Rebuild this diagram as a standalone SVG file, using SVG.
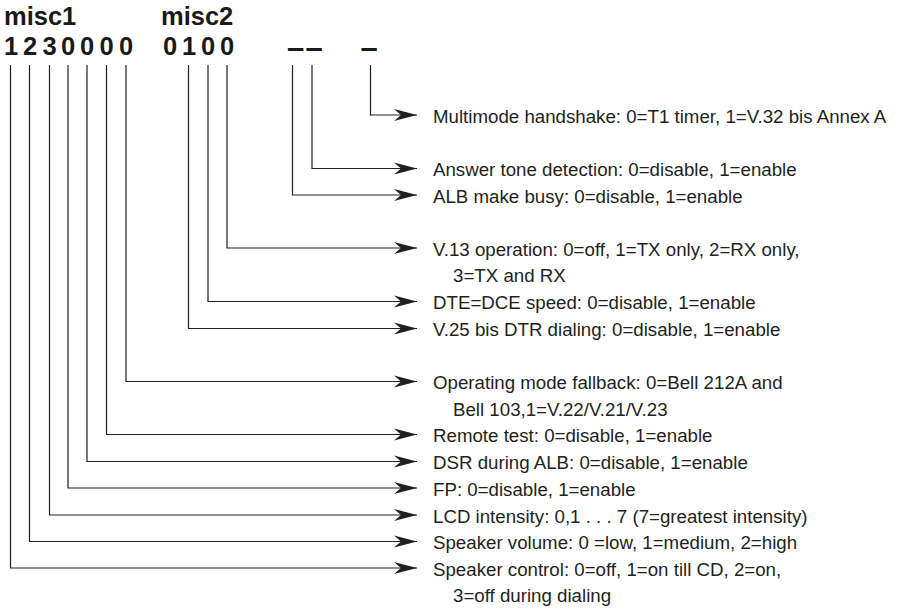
<svg xmlns="http://www.w3.org/2000/svg" width="900" height="608" viewBox="0 0 900 608">
<defs>
<style>
.hdr{font-family:"Liberation Sans",Arial,Helvetica,sans-serif;font-weight:bold;font-size:25.5px;fill:#1a1a1a}
.dg{font-family:"Liberation Sans",Arial,Helvetica,sans-serif;font-weight:bold;font-size:25.5px;fill:#1a1a1a;text-anchor:middle}
.ds{font-family:"Liberation Sans",Arial,Helvetica,sans-serif;font-weight:bold;font-size:31px;fill:#1a1a1a;text-anchor:middle}
.lbl{font-family:"Liberation Sans",Arial,Helvetica,sans-serif;font-size:18.7px;fill:#231f20}
.ln{fill:none;stroke:#231f20;stroke-width:1.2}
</style>
<marker id="ah" markerUnits="userSpaceOnUse" markerWidth="26" markerHeight="14" viewBox="-24 -7 26 14" refX="0" refY="0" orient="auto">
<path d="M0,0 L-23,-6 L-16,0 L-23,6 Z" fill="#231f20"/>
</marker>
</defs>
<rect width="900" height="608" fill="#ffffff"/>
<g id="header">
<text class="hdr" x="4" y="25">misc1</text>
<text class="hdr" x="161" y="25">misc2</text>
<text class="dg" x="11" y="55">1</text>
<text class="dg" x="30" y="55">2</text>
<text class="dg" x="49.5" y="55">3</text>
<text class="dg" x="68" y="55">0</text>
<text class="dg" x="87" y="55">0</text>
<text class="dg" x="106.5" y="55">0</text>
<text class="dg" x="126" y="55">0</text>
<text class="dg" x="170" y="55">0</text>
<text class="dg" x="189" y="55">1</text>
<text class="dg" x="208" y="55">0</text>
<text class="dg" x="227" y="55">0</text>
<text class="ds" x="295.5" y="58">–</text>
<text class="ds" x="314" y="58">–</text>
<text class="ds" x="369" y="58">–</text>
</g>
<g id="connectors">
<path class="ln" marker-end="url(#ah)" d="M370.5,65 V115 H417"/>
<path class="ln" marker-end="url(#ah)" d="M312,65 V168.5 H417"/>
<path class="ln" marker-end="url(#ah)" d="M292.5,65 V195 H417"/>
<path class="ln" marker-end="url(#ah)" d="M227,65 V248 H417"/>
<path class="ln" marker-end="url(#ah)" d="M208,65 V301.5 H417"/>
<path class="ln" marker-end="url(#ah)" d="M188.5,65 V328.5 H417"/>
<path class="ln" marker-end="url(#ah)" d="M126,65 V381.5 H417"/>
<path class="ln" marker-end="url(#ah)" d="M106.5,65 V434.5 H417"/>
<path class="ln" marker-end="url(#ah)" d="M87,65 V461.5 H417"/>
<path class="ln" marker-end="url(#ah)" d="M68,65 V488 H417"/>
<path class="ln" marker-end="url(#ah)" d="M49.5,65 V515 H417"/>
<path class="ln" marker-end="url(#ah)" d="M29.5,65 V541.5 H417"/>
<path class="ln" marker-end="url(#ah)" d="M10.5,65 V568 H417"/>
</g>
<g id="multimode"><text class="lbl" x="433" y="122.5">Multimode handshake: 0=T1 timer, 1=V.32 bis Annex A</text></g>
<g id="answer-tone"><text class="lbl" x="433" y="176">Answer tone detection: 0=disable, 1=enable</text></g>
<g id="alb-busy"><text class="lbl" x="433" y="202.5">ALB make busy: 0=disable, 1=enable</text></g>
<g id="v13"><text class="lbl" x="433" y="255.5">V.13 operation: 0=off, 1=TX only, 2=RX only,</text><text class="lbl" x="453" y="282">3=TX and RX</text></g>
<g id="dte-dce"><text class="lbl" x="433" y="309">DTE=DCE speed: 0=disable, 1=enable</text></g>
<g id="v25"><text class="lbl" x="433" y="336">V.25 bis DTR dialing: 0=disable, 1=enable</text></g>
<g id="fallback"><text class="lbl" x="433" y="389">Operating mode fallback: 0=Bell 212A and</text><text class="lbl" x="453" y="415.5">Bell 103,1=V.22/V.21/V.23</text></g>
<g id="remote"><text class="lbl" x="433" y="442">Remote test: 0=disable, 1=enable</text></g>
<g id="dsr"><text class="lbl" x="433" y="469">DSR during ALB: 0=disable, 1=enable</text></g>
<g id="fp"><text class="lbl" x="433" y="495.5">FP: 0=disable, 1=enable</text></g>
<g id="lcd"><text class="lbl" x="433" y="522.5">LCD intensity: 0,1 . . . 7 (7=greatest intensity)</text></g>
<g id="volume"><text class="lbl" x="433" y="549">Speaker volume: 0 =low, 1=medium, 2=high</text></g>
<g id="control"><text class="lbl" x="433" y="575.5">Speaker control: 0=off, 1=on till CD, 2=on,</text><text class="lbl" x="453" y="602">3=off during dialing</text></g>
</svg>
